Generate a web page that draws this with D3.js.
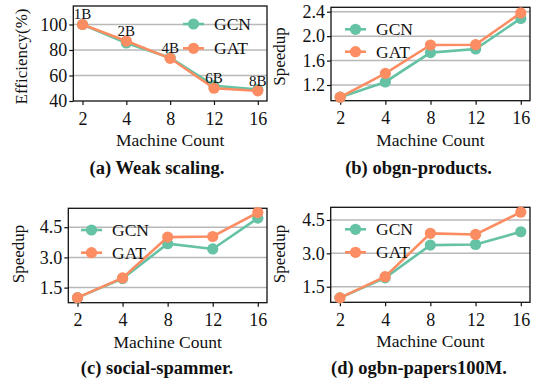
<!DOCTYPE html>
<html><head><meta charset="utf-8">
<script src="https://cdn.jsdelivr.net/npm/d3@7"></script>
<style>body{margin:0;background:#fff} svg text{font-family:'Liberation Serif','DejaVu Serif','Times New Roman',Times,serif !important;fill:#111}</style>
</head><body><svg id="c" width="533" height="379"></svg>
<script>
// ---- data ----
const machines = ["2","4","8","12","16"];
const seriesNames = ["GCN","GAT"];
const weakGCN = [100, 85.5, 74, 52, 49];
const weakGAT = [100, 87, 73.5, 50, 48];
const weakLabels = ["1B","2B","4B","6B","8B"];
const productsGCN = [1.0, 1.25, 1.73, 1.79, 2.29];
const productsGAT = [1.0, 1.39, 1.855, 1.86, 2.38];
const spammerGCN = [1.0, 1.95, 3.68, 3.42, 4.95];
const spammerGAT = [1.0, 1.98, 4.01, 4.04, 5.23];
const papersGCN = [1.0, 1.9, 3.37, 3.4, 3.97];
const papersGAT = [1.0, 1.95, 3.9, 3.85, 4.85];
const weakTicks = [40, 60, 80, 100];
const productsTicks = [1.2, 1.6, 2.0, 2.4];
const spammerTicks = [1.5, 3.0, 4.5];
const papersTicks = [1.5, 3.0, 4.5];
const weakDomain = [40, 114.5];
const productsDomain = [0.943, 2.472];
const spammerDomain = [0.75, 5.44];
const papersDomain = [0.8, 5.07];
const yLabels = ["Efficiency(%)", "Speedup", "Speedup", "Speedup"];
const xLabel = "Machine Count";
const titles = ["(a) Weak scaling.", "(b) obgn-products.", "(c) social-spammer.", "(d) ogbn-papers100M."];

// ---- layout ----
const FONT = "'Liberation Serif','DejaVu Serif','Times New Roman',Times,serif";
const colors = ["#66c2a5", "#fc8d62"];
const panels = [
  {box:[73.3,267,6,101], yl:[26.5,56.5], tt:[157,174], lg:[183,24,48.3], gcn:weakGCN, gat:weakGAT, ticks:weakTicks, dom:weakDomain, fmt:d3.format("d"), ann:weakLabels},
  {box:[331,530,7.3,100.7], yl:[285,56.5], tt:[418.5,174], lg:[345,29.3,51.7], gcn:productsGCN, gat:productsGAT, ticks:productsTicks, dom:productsDomain, fmt:d3.format(".1f")},
  {box:[68.3,267,208.3,302.7], yl:[24,254], tt:[157,374], lg:[81,230,252.7], gcn:spammerGCN, gat:spammerGAT, ticks:spammerTicks, dom:spammerDomain, fmt:d3.format(".1f")},
  {box:[330.7,530,207.3,302.3], yl:[285,254], tt:[419,374], lg:[345,229.3,252.3], gcn:papersGCN, gat:papersGAT, ticks:papersTicks, dom:papersDomain, fmt:d3.format(".1f")}
];

const svg = d3.select("#c").attr("font-family", FONT);
panels.forEach((p, i) => {
  const [x0, x1, y0, y1] = p.box;
  const x = d3.scalePoint().domain(machines).range([x0 + 9.2, x1 - 9.2]);
  const y = d3.scaleLinear().domain(p.dom).range([y1, y0]);
  const g = svg.append("g").attr("font-family", FONT);

  g.selectAll(".grid").data(p.ticks.filter(t => y(t) > y0 + 1 && y(t) < y1 - 1)).join("line")
    .attr("x1", x0).attr("x2", x1).attr("y1", d => y(d)).attr("y2", d => y(d))
    .attr("stroke", "#b8b8b8").attr("stroke-width", 1.5);

  const ax = g.append("g").attr("transform", `translate(0,${y1})`)
    .call(d3.axisBottom(x).tickSize(4).tickPadding(7));
  const ay = g.append("g").attr("transform", `translate(${x0},0)`)
    .call(d3.axisLeft(y).tickValues(p.ticks).tickFormat(p.fmt).tickSize(4).tickPadding(2));
  [ax, ay].forEach(a => {
    a.attr("font-family", FONT).attr("font-size", 18);
    a.select(".domain").remove();
    a.selectAll("line").attr("stroke", "#111").attr("stroke-width", 1.2);
    a.selectAll("text").attr("fill", "#111");
  });

  g.append("rect").attr("x", x0).attr("y", y0).attr("width", x1 - x0).attr("height", y1 - y0)
    .attr("fill", "none").attr("stroke", "#111").attr("stroke-width", 1.3);

  [p.gcn, p.gat].forEach((vals, si) => {
    const line = d3.line().x((d, k) => x(machines[k])).y(d => y(d));
    g.append("path").datum(vals).attr("d", line).attr("fill", "none")
      .attr("stroke", colors[si]).attr("stroke-width", 2.6);
    g.selectAll(".pt" + si).data(vals).join("circle")
      .attr("cx", (d, k) => x(machines[k])).attr("cy", d => y(d)).attr("r", 5.6)
      .attr("fill", colors[si]);
  });

  if (p.ann) {
    g.selectAll(".ann").data(p.ann).join("text")
      .attr("x", (d, k) => x(machines[k])).attr("y", (d, k) => y(p.gat[k]) - 5)
      .attr("text-anchor", "middle").attr("font-size", 15).text(d => d);
  }

  const [lx, ly1, ly2] = p.lg;
  [ly1, ly2].forEach((ly, si) => {
    g.append("line").attr("x1", lx).attr("x2", lx + 21).attr("y1", ly).attr("y2", ly)
      .attr("stroke", colors[si]).attr("stroke-width", 2.6);
    g.append("circle").attr("cx", lx + 10.5).attr("cy", ly).attr("r", 5.6).attr("fill", colors[si]);
    g.append("text").attr("x", lx + 31).attr("y", ly + 6).attr("font-size", 17.5).text(seriesNames[si]);
  });

  g.append("text").attr("transform", `translate(${p.yl[0]},${p.yl[1]}) rotate(-90)`)
    .attr("text-anchor", "middle").attr("font-size", 17).text(yLabels[i]);
  g.append("text").attr("x", (x0 + x1) / 2).attr("y", y1 + 45).attr("text-anchor", "middle")
    .attr("font-size", 17.5).text(xLabel);
  g.append("text").attr("x", p.tt[0]).attr("y", p.tt[1]).attr("text-anchor", "middle")
    .attr("font-size", 18.5).attr("font-weight", "bold").text(titles[i]);
});
</script></body></html>
